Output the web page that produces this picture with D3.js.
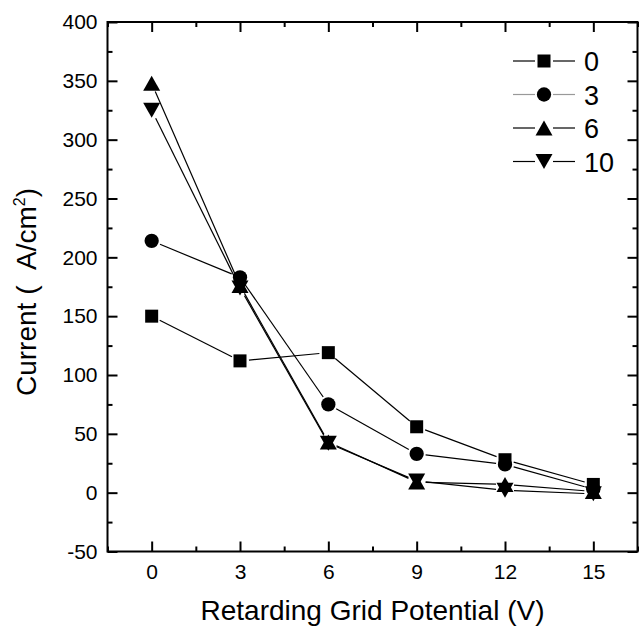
<!DOCTYPE html>
<html>
<head>
<meta charset="utf-8">
<script src="https://cdn.jsdelivr.net/npm/d3@7"></script>
<style>
  body { margin: 0; background: #fff; }
  text { font-family: "Liberation Sans", Arial, sans-serif; fill: #000; }
</style>
</head>
<body>
<svg id="chart" width="639" height="627"></svg>
<script>
// values
var potential = [0, 3, 6, 9, 12, 15];
var seriesNames = ['0', '3', '6', '10'];
var cur0 = [150, 112, 119, 56, 28, 7];
var cur3 = [214, 183, 75, 33, 24, 3];
var cur6 = [348, 176, 43, 9, 7, 1];
var cur10 = [325, 174, 42, 10, 2, -1];
var xTicks = [0, 3, 6, 9, 12, 15];
var yTicks = [-50, 0, 50, 100, 150, 200, 250, 300, 350, 400];

var series = [
    {name: seriesNames[0], values: cur0, shape: 'square', legendStroke: '#000'},
    {name: seriesNames[1], values: cur3, shape: 'circle', legendStroke: '#999'},
    {name: seriesNames[2], values: cur6, shape: 'up', legendStroke: '#000'},
    {name: seriesNames[3], values: cur10, shape: 'down', legendStroke: '#000'}
];

var svg = d3.select('#chart'),
    pLeft = 107.5, pRight = 637.5, pTop = 22, pBottom = 551.5;

var x = d3.scaleLinear().domain([-1.5, 16.5]).range([pLeft, pRight]),
    y = d3.scaleLinear().domain([-50, 400]).range([pBottom, pTop]);

var plainNum = function(d) { return String(d); };

// marker shapes
var symbolPath = function(shape) {
    if (shape === 'square') return d3.symbol(d3.symbolSquare, 169)();
    if (shape === 'circle') return d3.symbol(d3.symbolCircle, 160)();
    var w = 8.5, h = 7.5;
    if (shape === 'up') return 'M0,' + (-h) + 'L' + w + ',' + h + 'L' + (-w) + ',' + h + 'Z';
    return 'M0,' + h + 'L' + w + ',' + (-h) + 'L' + (-w) + ',' + (-h) + 'Z';
};

// axes, ticks inward on all four sides
var minorX = d3.range(-1.5, 16.6, 1.5).filter(function(v) { return xTicks.indexOf(v) < 0; }),
    minorY = d3.range(-25, 400, 50);

var styleAxis = function(g) {
    g.attr('font-size', null).attr('font-family', null);
    g.select('.domain').remove();
    g.selectAll('line').attr('stroke', '#000').attr('stroke-width', 2);
    g.selectAll('text').style('font-size', '21px').attr('fill', '#000');
};

svg.append('g').attr('transform', 'translate(0,' + pBottom + ')')
    .call(d3.axisBottom(x).tickValues(xTicks).tickFormat(plainNum).tickSize(-10).tickPadding(13))
    .call(styleAxis);
svg.append('g').attr('transform', 'translate(0,' + pBottom + ')')
    .call(d3.axisBottom(x).tickValues(minorX).tickSize(-5).tickFormat(''))
    .call(styleAxis);
svg.append('g').attr('transform', 'translate(0,' + pTop + ')')
    .call(d3.axisTop(x).tickValues(xTicks).tickSize(-10).tickFormat(''))
    .call(styleAxis);
svg.append('g').attr('transform', 'translate(0,' + pTop + ')')
    .call(d3.axisTop(x).tickValues(minorX).tickSize(-5).tickFormat(''))
    .call(styleAxis);

svg.append('g').attr('transform', 'translate(' + pLeft + ',0)')
    .call(d3.axisLeft(y).tickValues(yTicks).tickFormat(plainNum).tickSize(-10).tickPadding(10))
    .call(styleAxis);
svg.append('g').attr('transform', 'translate(' + pLeft + ',0)')
    .call(d3.axisLeft(y).tickValues(minorY).tickSize(-5).tickFormat(''))
    .call(styleAxis);
svg.append('g').attr('transform', 'translate(' + pRight + ',0)')
    .call(d3.axisRight(y).tickValues(yTicks).tickSize(-10).tickFormat(''))
    .call(styleAxis);
svg.append('g').attr('transform', 'translate(' + pRight + ',0)')
    .call(d3.axisRight(y).tickValues(minorY).tickSize(-5).tickFormat(''))
    .call(styleAxis);

svg.append('rect')
    .attr('x', pLeft).attr('y', pTop)
    .attr('width', pRight - pLeft).attr('height', pBottom - pTop)
    .attr('fill', 'none').attr('stroke', '#000').attr('stroke-width', 2);

// connecting lines, with a small gap at each marker
var gap = 9;
series.forEach(function(s) {
    var pts = potential.map(function(p, i) { return [x(p), y(s.values[i])]; });
    for (var i = 0; i < pts.length - 1; i++) {
        var a = pts[i], b = pts[i + 1],
            dx = b[0] - a[0], dy = b[1] - a[1],
            len = Math.sqrt(dx * dx + dy * dy);
        if (len <= gap * 2) continue;
        var ux = dx / len, uy = dy / len;
        svg.append('line')
            .attr('x1', a[0] + ux * gap).attr('y1', a[1] + uy * gap)
            .attr('x2', b[0] - ux * gap).attr('y2', b[1] - uy * gap)
            .attr('stroke', '#000').attr('stroke-width', 1.2);
    }
});

series.forEach(function(s) {
    svg.append('g').selectAll('path')
        .data(potential)
        .join('path')
        .attr('transform', function(p, i) { return 'translate(' + x(p) + ',' + y(s.values[i]) + ')'; })
        .attr('d', symbolPath(s.shape))
        .attr('fill', '#000');
});

// legend
var legend = svg.append('g');
series.forEach(function(s, i) {
    var ly = 61 + i * 33.5;
    legend.append('line').attr('x1', 513).attr('x2', 535).attr('y1', ly).attr('y2', ly)
        .attr('stroke', s.legendStroke).attr('stroke-width', 1.2);
    legend.append('line').attr('x1', 553).attr('x2', 575).attr('y1', ly).attr('y2', ly)
        .attr('stroke', s.legendStroke).attr('stroke-width', 1.2);
    legend.append('path')
        .attr('transform', 'translate(544,' + ly + ')')
        .attr('d', symbolPath(s.shape))
        .attr('fill', '#000');
    legend.append('text')
        .attr('x', 584).attr('y', ly + 10)
        .style('font-size', '27px')
        .text(s.name);
});

// axis titles
svg.append('text')
    .attr('x', (pLeft + pRight) / 2).attr('y', 620)
    .attr('text-anchor', 'middle')
    .style('font-size', '28px')
    .text('Retarding Grid Potential (V)');

var yTitle = svg.append('text')
    .attr('transform', 'translate(36,292) rotate(-90)')
    .attr('text-anchor', 'middle')
    .style('font-size', '28px');
yTitle.append('tspan').text('Current (\u00a0\u00a0A/cm');
yTitle.append('tspan').attr('dy', -11).style('font-size', '16px').text('2');
yTitle.append('tspan').attr('dy', 11).text(')');
</script>
</body>
</html>
